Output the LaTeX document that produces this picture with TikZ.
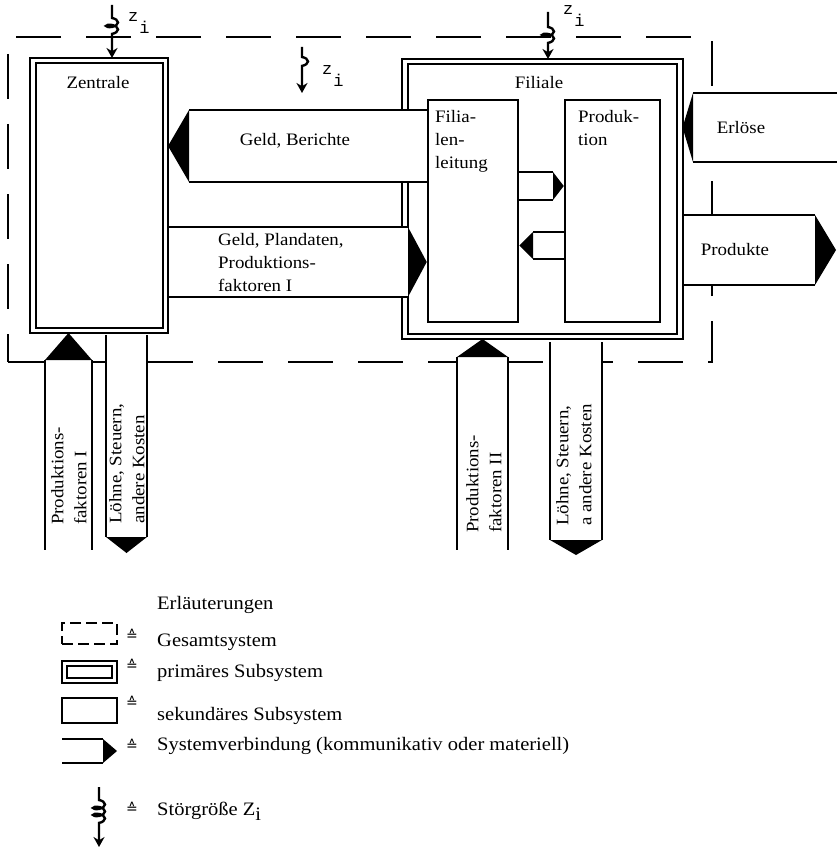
\documentclass[tikz,border=0pt]{standalone}
\usepackage{fontspec}
\setmainfont{Liberation Serif}[FakeStretch=1.08]
\setmonofont{Liberation Mono}
\newfontfamily\zeichenfont{DejaVu Sans}
\usetikzlibrary{calc,arrows.meta,decorations.pathmorphing}
\newcommand{\zsub}{z\kern1pt\raisebox{-12pt}{i}}
\tikzset{
  gesamt/.style={draw, line width=2.4pt, dash pattern=on 45pt off 25pt, inner sep=0pt},
  primaer/.style={draw, line width=2.2pt, double, double distance=3.2pt, fill=white,
                  inner sep=0pt, outer sep=2.5pt},
  sekundaer/.style={draw, line width=2.5pt, fill=white, inner sep=0pt},
  rohr/.style={fill=white, inner sep=0pt, outer sep=0pt},
  rand/.style={line width=2.5pt},
  stoer/.style={line width=2.4pt, -{Stealth[length=10pt, width=11pt]}},
  feder/.style={decoration={coil, amplitude=6pt, segment length=7pt, aspect=0.45}},
  schrift/.style={font=\fontsize{17.5}{23}\selectfont, inner sep=0pt},
  hochschrift/.style={schrift, rotate=90, anchor=west, align=left},
  zlabel/.style={font=\fontsize{17}{17}\ttfamily, inner sep=0pt, anchor=base west},
  legende/.style={font=\fontsize{19}{23}\selectfont, inner sep=0pt, anchor=base west},
  entspr/.style={font=\fontsize{14}{14}\zeichenfont, inner sep=0pt},
}
\begin{document}
\begin{tikzpicture}[x=1pt, y=-1pt]
    \useasboundingbox (0,0) rectangle (836,848);
    % Gesamtsystem und primaere Subsysteme
    \node[gesamt, minimum width=704, minimum height=325] (ges) at (360,199.5) {};
    \node[primaer, minimum width=132.5, minimum height=270] (zen) at (99.25,195.5) {};
    \node[primaer, minimum width=275, minimum height=275] (fil) at (542.5,199) {};
    % Verbindungen (Rumpf)
    \node[rohr, minimum width=239, minimum height=72] (gb) at (308.5,146) {};
    \node[rohr, minimum width=239, minimum height=70] (gp) at (288.5,262) {};
    \node[rohr, minimum width=35, minimum height=28] (fp) at (535.5,186) {};
    \node[rohr, minimum width=32, minimum height=27] (pf) at (549,245.5) {};
    \node[rohr, minimum width=160, minimum height=69] (er) at (773,127.5) {};
    \node[rohr, minimum width=131, minimum height=70] (pr) at (749.5,250) {};
    \node[rohr, minimum width=47, minimum height=190] (pf1) at (68.5,455) {};
    \node[rohr, minimum width=41, minimum height=202] (lk1) at (126.5,436) {};
    \node[rohr, minimum width=51, minimum height=193] (pf2) at (482.5,453.5) {};
    \node[rohr, minimum width=52, minimum height=198] (lk2) at (576,441) {};
    \foreach \v in {gb,gp,fp,pf,er,pr}
        \draw[rand] (\v.north west) -- (\v.north east) (\v.south west) -- (\v.south east);
    \foreach \v in {pf1,lk1,pf2,lk2}
        \draw[rand] (\v.north west) -- (\v.south west) (\v.north east) -- (\v.south east);
    % sekundaere Subsysteme
    \node[sekundaer, minimum width=90, minimum height=222] (fl) at (473,211) {};
    \node[sekundaer, minimum width=95, minimum height=222] (prod) at (612.5,211) {};
    % Spitzen
    \fill (gb.north west) -- (zen.east |- gb.west) -- (gb.south west) -- cycle;
    \fill (gp.north east) -- (fl.west |- gp.east) -- (gp.south east) -- cycle;
    \fill (fp.north east) -- (prod.west |- fp.east) -- (fp.south east) -- cycle;
    \fill (pf.north west) -- (fl.east |- pf.west) -- (pf.south west) -- cycle;
    \fill (er.north west) -- (fil.east |- er.west) -- (er.south west) -- cycle;
    \fill (pr.north east) -- ($(pr.east)+(21,0)$) -- (pr.south east) -- cycle;
    \fill (pf1.north west) -- (zen.south -| pf1.north) -- (pf1.north east) -- cycle;
    \fill (lk1.south west) -- ($(lk1.south)+(0,16)$) -- (lk1.south east) -- cycle;
    \fill (pf2.north west) -- (fil.south -| pf2.north) -- (pf2.north east) -- cycle;
    \fill (lk2.south west) -- ($(lk2.south)+(0,15)$) -- (lk2.south east) -- cycle;
    % Beschriftungen
    \node[schrift] (tzen) at (98,83) {Zentrale};
    \node[schrift] (tfil) at (539,83) {Filiale};
    \node[schrift, anchor=north west, align=left] (tfl) at (435,110) {Filia-\\len-\\leitung};
    \node[schrift, anchor=north west, align=left] (tprod) at (578,110) {Produk-\\tion};
    \node[schrift] (tgb) at (295,141) {Geld, Berichte};
    \node[schrift, anchor=north west, align=left] (tgp) at (218,233) {Geld, Plandaten,\\Produktions-\\faktoren I};
    \node[schrift] (ter) at (741,128) {Erlöse};
    \node[schrift] (tpr) at (735,250) {Produkte};
    \node[hochschrift] (tpf1) at (69,525) {Produktions-\\faktoren I};
    \node[hochschrift] (tlk1) at (127,524) {Löhne, Steuern,\\andere Kosten};
    \node[hochschrift] (tpf2) at (484,533) {Produktions-\\faktoren II};
    \node[hochschrift] (tlk2) at (574,526) {Löhne, Steuern,\\a andere Kosten};
    % Stoergroessen
    \coordinate (z1) at (112,5);
    \coordinate (z2) at (302,47);
    \coordinate (z2e) at (302,93);
    \coordinate (z3) at (548,12);
    \draw[stoer] (z1) -- ++(0,13) decorate[feder] {-- ++(0,17)} -- (zen.north -| z1);
    \draw[stoer] (z2) -- ++(0,10) decorate[feder] {-- ++(0,15)} -- (z2e);
    \draw[stoer] (z3) -- ++(0,15) decorate[feder] {-- ++(0,18)} -- (fil.north -| z3);
    \node[zlabel] (lz1) at (128,22) {\zsub};
    \node[zlabel] (lz2) at (322,75) {\zsub};
    \node[zlabel] (lz3) at (563,15) {\zsub};
    % Erlaeuterungen
    \node[legende] (lerl) at (157,609) {Erläuterungen};
    \node[gesamt, line width=2pt, dash pattern=on 11pt off 5pt, minimum width=55, minimum height=21] (sym1) at (89.5,633.5) {};
    \node[primaer, line width=2pt, minimum width=49.5, minimum height=16.5] (sym2) at (89.5,672) {};
    \node[sekundaer, minimum width=55, minimum height=25] (sym3) at (89.5,710.5) {};
    \node[rohr, minimum width=41, minimum height=24] (sym4) at (82.5,751) {};
    \draw[rand] (sym4.north west) -- (sym4.north east) (sym4.south west) -- (sym4.south east);
    \fill (sym4.north east) -- ($(sym4.east)+(14,0)$) -- (sym4.south east) -- cycle;
    \coordinate (sym5) at (99,787);
    \coordinate (sym5e) at (99,847);
    \draw[stoer] (sym5) -- ++(0,13) decorate[feder] {-- ++(0,27)} -- (sym5e);
    \foreach \y in {635,665,702,745,808}
        \node[entspr] at (132,\y) {≙};
    \node[legende] (l1) at (157,646) {Gesamtsystem};
    \node[legende] (l2) at (157,677) {primäres Subsystem};
    \node[legende] (l3) at (157,720) {sekundäres Subsystem};
    \node[legende] (l4) at (157,750) {Systemverbindung (kommunikativ oder materiell)};
    \node[legende] (l5) at (157,815) {Störgröße Z\raisebox{-5pt}{i}};
\end{tikzpicture}
\end{document}
